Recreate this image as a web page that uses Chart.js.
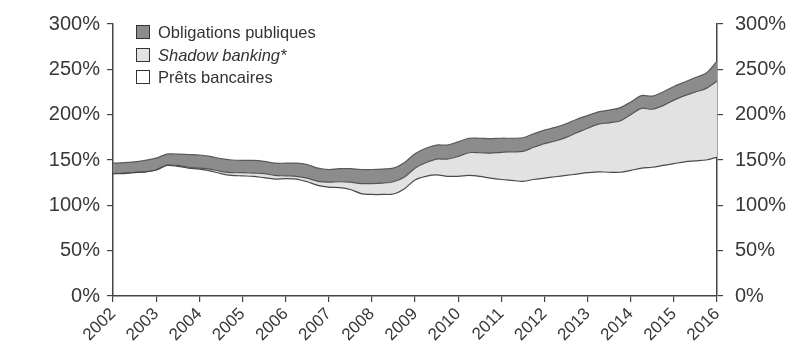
<!DOCTYPE html>
<html>
<head>
<meta charset="utf-8">
<script src="https://cdn.jsdelivr.net/npm/chart.js@4/dist/chart.umd.min.js"></script>
<style>
  html,body{margin:0;padding:0;background:#fff;}
  #wrap{position:relative;width:794px;height:347px;}
  #legend{position:absolute;left:136px;top:21px;font-family:"Liberation Sans",Arial,sans-serif;font-size:16.5px;color:#333;line-height:22.5px;}
  #legend .row{display:flex;align-items:center;}
  #legend .box{width:12px;height:12px;border:1px solid #333;margin-right:8px;box-sizing:content-box;}
</style>
</head>
<body>
<div id="wrap">
<canvas id="c" width="794" height="347"></canvas>
<div id="legend"></div>
</div>
<script>
// Time points (quarters, as year fractions)
const quarters = [
 2002.00,2002.25,2002.50,2002.75,2003.00,2003.25,2003.50,2003.75,
 2004.00,2004.25,2004.50,2004.75,2005.00,2005.25,2005.50,2005.75,
 2006.00,2006.25,2006.50,2006.75,2007.00,2007.25,2007.50,2007.75,
 2008.00,2008.25,2008.50,2008.75,2009.00,2009.25,2009.50,2009.75,
 2010.00,2010.25,2010.50,2010.75,2011.00,2011.25,2011.50,2011.75,
 2012.00,2012.25,2012.50,2012.75,2013.00,2013.25,2013.50,2013.75,
 2014.00,2014.25,2014.50,2014.75,2015.00,2015.25,2015.50,2015.75,
 2016.00
];
// Prêts bancaires (% du PIB)
const pretsBancaires = [
 135,135,136,137,139,144,143,141,
 140,138,135,133,132.5,132,130.5,129,
 129.5,129,126,122,120,119.5,117.5,113,
 112,112,112.5,118,128,132,133.5,132,
 132,133,132,130,128.5,127.5,126.5,128.5,
 130,131.5,133,134.5,136,137,136.5,136.5,
 138.5,141,142,144,146,148,149,150,
 153
];
// Shadow banking (% du PIB)
const shadowBanking = [
 0,0.5,0.5,0,0,0.5,1,1,
 1,2,2.5,3,3.5,3.5,4.5,4,
 3,3,4,4.5,5.5,6.5,8,11,
 12,12.5,13.5,13,13,15,17.5,19,
 22,25,26,27.5,30,31.5,33,35.5,
 38,39.5,42,45.5,49,52.5,54.5,56.5,
 61.5,66,64,66,70,73,76,79,
 84
];
// Obligations publiques (% du PIB)
const obligationsPubliques = [
 11.5,11.5,11.5,12.5,13,12,12.5,14,
 14.5,14,14,14,13.5,14,13.5,13.5,
 14,14.5,15,14.5,14,14.5,15,15.5,
 15.5,15.5,15,16,16,16,15.5,15.5,
 16,16,16,16,15.5,15,15,15,
 15,15,15,15,14,13.5,14,14.5,
 14,14,14.5,15,15,15,16,17,
 22
];
const yearTicks = [2002,2003,2004,2005,2006,2007,2008,2009,2010,2011,2012,2013,2014,2015,2016];
const yTicks = [0,50,100,150,200,250,300];
const seriesNames = ["Obligations publiques","Shadow banking*","Prêts bancaires"];

const toXY = arr => arr.map((v,i)=>({x:quarters[i], y:v}));
const FONT = "'Liberation Sans', Arial, sans-serif";
const TXT = '#383838';
const AX = '#444';

const axisCommon = {
  min:0, max:300,
  afterBuildTicks: s => { s.ticks = yTicks.map(v=>({value:v})); },
  ticks:{ font:{family:FONT,size:20}, color:TXT, callback:v=>v+'%' },
  grid:{ drawOnChartArea:false, drawTicks:true, tickLength:6, color:AX, lineWidth:1.2 },
  border:{ display:true, color:AX, width:1.5 }
};

new Chart(document.getElementById('c'), {
  type:'line',
  data:{
    datasets:[
      { label:seriesNames[2], data:toXY(pretsBancaires), fill:false,
        backgroundColor:'#ffffff', borderColor:'#4a4a4a', borderWidth:1.2 },
      { label:seriesNames[1], data:toXY(shadowBanking), fill:'-1',
        backgroundColor:'#e2e2e2', borderColor:'#555555', borderWidth:1.2 },
      { label:seriesNames[0], data:toXY(obligationsPubliques), fill:'-1',
        backgroundColor:'#8c8c8c', borderColor:'#5a5a5a', borderWidth:1.2 }
    ]
  },
  options:{
    responsive:false, animation:false,
    elements:{ point:{radius:0}, line:{tension:0.3} },
    layout:{ padding:{top:14, right:0, bottom:0, left:0} },
    plugins:{ legend:{display:false}, tooltip:{enabled:false} },
    scales:{
      x:{ type:'linear', min:2002, max:2016,
        afterBuildTicks: s => { s.ticks = yearTicks.map(v=>({value:v})); },
        afterFit: s => { s.height = 51; },
        ticks:{ font:{family:FONT,size:17}, color:TXT, minRotation:45, maxRotation:45, padding:2,
          callback:v=>String(v) },
        grid:{ drawOnChartArea:false, drawTicks:true, tickLength:6, color:AX, lineWidth:1.2 },
        border:{ display:true, color:AX, width:1.5 }
      },
      y:Object.assign({}, axisCommon, { position:'left', stacked:true,
        afterFit: s => { s.width = 113; },
        ticks:Object.assign({}, axisCommon.ticks, {padding:7}) }),
      y2:Object.assign({}, axisCommon, { position:'right',
        afterFit: s => { s.width = 77; },
        ticks:Object.assign({}, axisCommon.ticks, {padding:12}) })
    }
  }
});

// HTML legend
const legendColors = ['#8c8c8c','#e2e2e2','#ffffff'];
const lg = document.getElementById('legend');
seriesNames.forEach((n,i)=>{
  const r = document.createElement('div'); r.className='row';
  const b = document.createElement('span'); b.className='box'; b.style.background=legendColors[i];
  const t = document.createElement('span'); t.textContent=n;
  if(i===1){ t.style.fontStyle='italic'; }
  r.appendChild(b); r.appendChild(t); lg.appendChild(r);
});
</script>
</body>
</html>
